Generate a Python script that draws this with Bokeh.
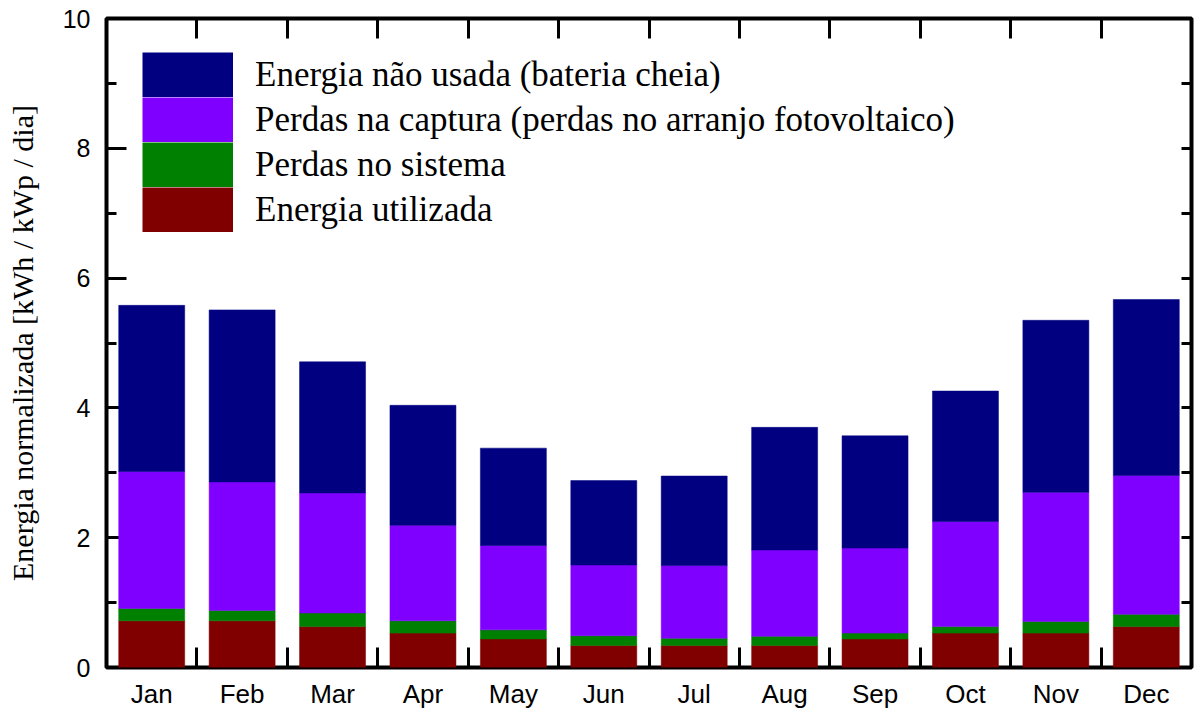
from bokeh.plotting import figure
from bokeh.models import (ColumnDataSource, FixedTicker, LinearAxis, Range1d,
                          Legend, LegendItem)
from bokeh.embed import file_html
from bokeh.resources import INLINE

# ---------------- data ----------------
months = ["Jan", "Feb", "Mar", "Apr", "May", "Jun",
          "Jul", "Aug", "Sep", "Oct", "Nov", "Dec"]
energia_utilizada = [0.72, 0.72, 0.63, 0.53, 0.44, 0.34, 0.34, 0.34, 0.44, 0.53, 0.53, 0.63]
perdas_sistema    = [0.19, 0.16, 0.21, 0.19, 0.14, 0.15, 0.11, 0.14, 0.09, 0.10, 0.18, 0.19]
perdas_captura    = [2.11, 1.98, 1.85, 1.47, 1.30, 1.09, 1.12, 1.33, 1.31, 1.62, 1.99, 2.14]
energia_nao_usada = [2.56, 2.65, 2.02, 1.85, 1.50, 1.30, 1.38, 1.89, 1.73, 2.01, 2.65, 2.71]
series_labels = ["Energia utilizada", "Perdas no sistema",
                 "Perdas na captura (perdas no arranjo fotovoltaico)",
                 "Energia não usada (bateria cheia)"]
series_colors = ["#800000", "#008000", "#8000FF", "#000080"]
y_major = [0, 2, 4, 6, 8, 10]
y_minor = [1, 3, 5, 7, 9]
y_label = "Energia normalizada [kWh / kWp / dia]"

# ---------------- figure ----------------
n = len(months)
xc = [i + 0.5 for i in range(n)]
keys = ["used", "sys", "cap", "unused"]
source = ColumnDataSource(dict(x=xc, used=energia_utilizada, sys=perdas_sistema,
                               cap=perdas_captura, unused=energia_nao_usada))

p = figure(width=1194, height=711, x_range=Range1d(0, n), y_range=Range1d(0, 10),
           output_backend="svg", toolbar_location=None,
           x_axis_location=None, y_axis_location=None,
           min_border_left=106, min_border_right=3, min_border_top=18, min_border_bottom=44)
p.background_fill_color = "white"
p.border_fill_color = "white"
p.outline_line_color = "black"
p.outline_line_width = 4
p.outline_line_alpha = 1.0
for g in p.grid:
    g.visible = False

rends = p.vbar_stack(keys, x="x", width=0.73, source=source,
                     fill_color=series_colors, line_color=series_colors, line_width=0.5)

boundaries = list(range(n + 1))
TICK_W = 3

# bottom axis: month labels at centres, ticks at boundaries
xb = LinearAxis(ticker=FixedTicker(ticks=xc, minor_ticks=boundaries),
                major_label_overrides={v: m for v, m in zip(xc, months)})
xb.major_tick_in = 0
xb.major_tick_out = 0
xb.minor_tick_in = 20
xb.minor_tick_out = 0
xb.minor_tick_line_width = TICK_W
xb.minor_tick_line_color = "black"
xb.axis_line_color = None
xb.major_label_text_font = "Liberation Sans"
xb.major_label_text_font_size = "26px"
xb.major_label_text_color = "black"
xb.major_label_standoff = 11
p.add_layout(xb, "below")

# top axis: ticks only
xt = LinearAxis(ticker=FixedTicker(ticks=xc, minor_ticks=boundaries),
                major_label_overrides={v: "" for v in xc})
xt.major_tick_in = 0
xt.major_tick_out = 0
xt.minor_tick_in = 20
xt.minor_tick_out = 0
xt.minor_tick_line_width = TICK_W
xt.minor_tick_line_color = "black"
xt.axis_line_color = None
xt.major_label_text_font_size = "1px"
xt.major_label_standoff = 0
p.add_layout(xt, "above")

# left ticks (drawn beneath the bars)
yt = LinearAxis(ticker=FixedTicker(ticks=y_major, minor_ticks=y_minor),
                major_label_overrides={v: "" for v in y_major})
yt.level = "underlay"
yt.major_tick_in = 20
yt.major_tick_out = 0
yt.minor_tick_in = 10
yt.minor_tick_out = 0
yt.major_tick_line_width = TICK_W
yt.minor_tick_line_width = TICK_W
yt.axis_line_color = None
yt.major_label_text_font_size = "1px"
yt.major_label_standoff = 0
p.add_layout(yt, "left")

# left labels
yl = LinearAxis(ticker=FixedTicker(ticks=y_major))
yl.major_tick_in = 0
yl.major_tick_out = 0
yl.minor_tick_in = 0
yl.minor_tick_out = 0
yl.axis_line_color = None
yl.major_label_text_font = "Liberation Sans"
yl.major_label_text_font_size = "25px"
yl.major_label_text_color = "black"
yl.major_label_standoff = 16
yl.axis_label = y_label
yl.axis_label_text_font = "Liberation Serif"
yl.axis_label_text_font_size = "30px"
yl.axis_label_text_font_style = "normal"
yl.axis_label_text_color = "black"
yl.axis_label_standoff = 21
p.add_layout(yl, "left")

# right axis: ticks only
yr = LinearAxis(ticker=FixedTicker(ticks=y_major, minor_ticks=y_minor),
                major_label_overrides={v: "" for v in y_major})
yr.major_tick_in = 10
yr.major_tick_out = 0
yr.minor_tick_in = 10
yr.minor_tick_out = 0
yr.major_tick_line_width = TICK_W
yr.minor_tick_line_width = TICK_W
yr.axis_line_color = None
yr.major_label_text_font_size = "1px"
yr.major_label_standoff = 0
p.add_layout(yr, "right")

# legend swatches: thick-line proxies (no visible data) give contiguous colour blocks
nan = float("nan")
proxies = [p.line(x=[nan, nan], y=[nan, nan], line_width=45, line_color=c, line_cap="butt")
           for c in series_colors]
items = [LegendItem(label=series_labels[i], renderers=[proxies[i]]) for i in [3, 2, 1, 0]]
legend = Legend(items=items, location=(36, 435), orientation="vertical",
                glyph_width=91, glyph_height=45, label_height=45, spacing=0,
                padding=0, margin=0, label_standoff=22,
                label_text_font="Liberation Serif", label_text_font_size="35px",
                label_text_color="black",
                background_fill_alpha=0, border_line_alpha=0)
p.add_layout(legend, "center")

open("out.html", "w").write(file_html(p, INLINE))
